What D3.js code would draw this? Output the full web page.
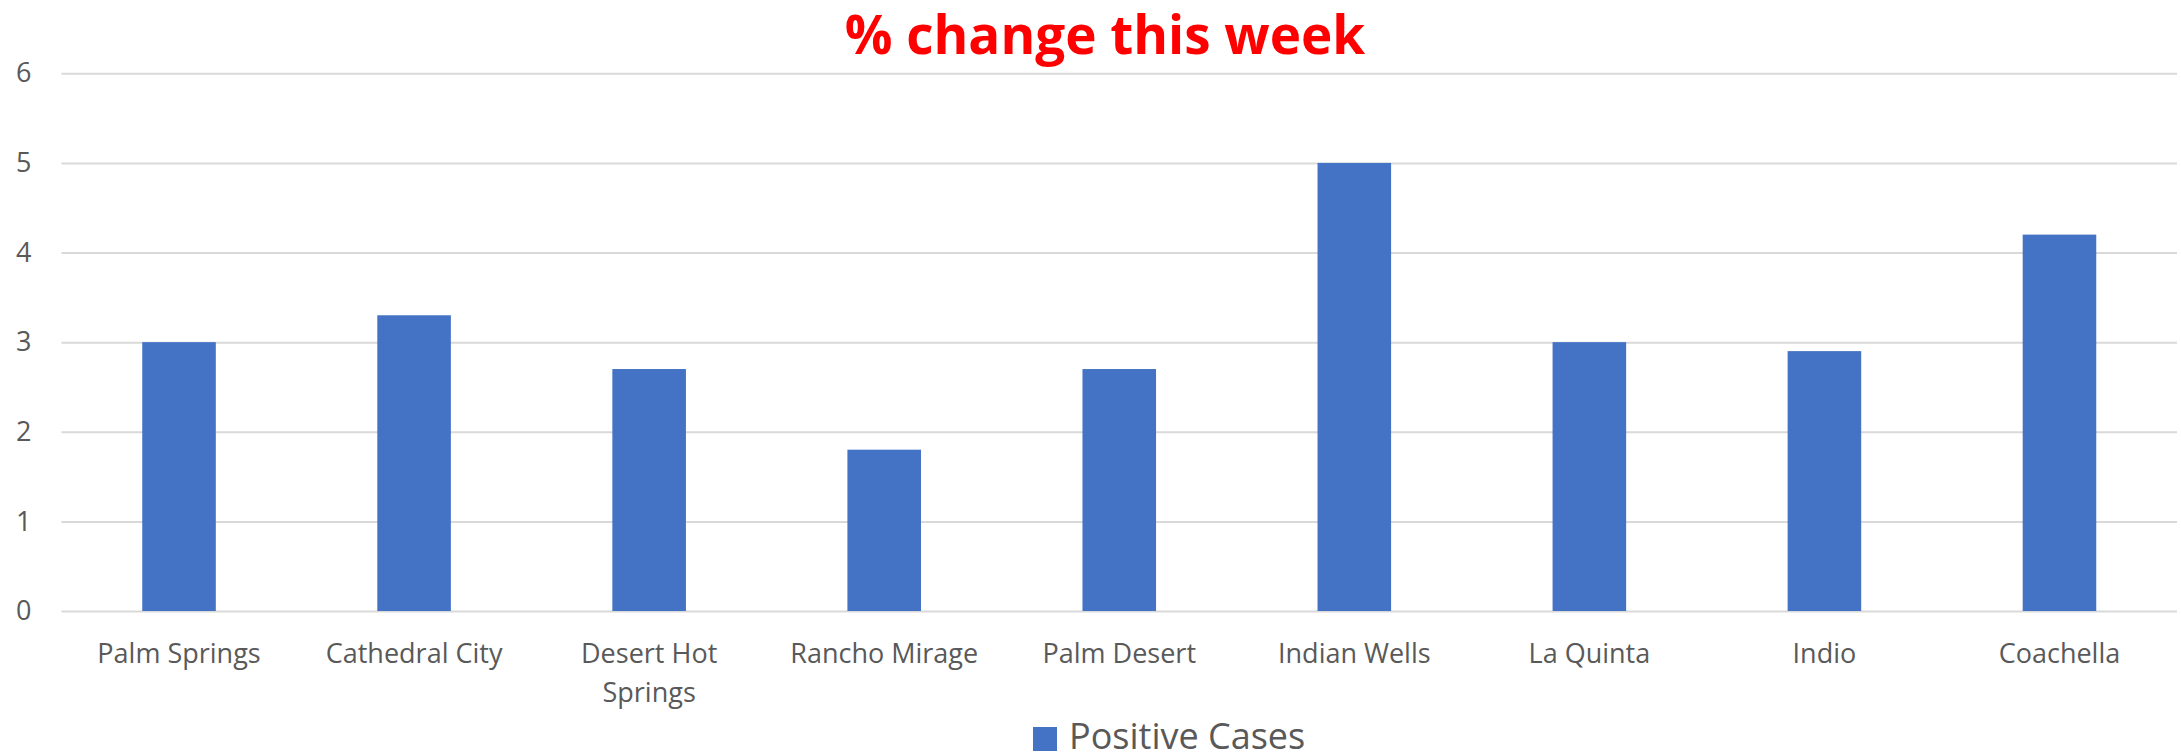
<!DOCTYPE html>
<html>
<head>
<meta charset="utf-8">
<script src="https://cdn.jsdelivr.net/npm/d3@7"></script>
<style>
	html, body { margin: 0; padding: 0; background: #fff; }
	svg { display: block; }
</style>
</head>
<body>
<div id="chart"></div>
<script>
const categories = ["Palm Springs", "Cathedral City", "Desert Hot Springs", "Rancho Mirage", "Palm Desert", "Indian Wells", "La Quinta", "Indio", "Coachella"]
const positive_cases = [3, 3.3, 2.7, 1.8, 2.7, 5, 3, 2.9, 4.2]
const y_ticks = [0, 1, 2, 3, 4, 5, 6]
const series_name = "Positive Cases"
const chart_title = "% change this week"

const width = 2181
const height = 756
const left = 61.5
const right = 2177
const top_y = 73.3
const bottom_y = 611
const font = "'Open Sans', sans-serif"
const text_color = "#595959"
const bar_color = "#4472C4"

const svg = d3.select("#chart")
	.append("svg")
	.attr("width", width)
	.attr("height", height)

const x_scale = d3.scaleBand()
	.domain(categories)
	.range([left, right])
	.paddingInner(0.687)
	.paddingOuter(0.3435)

const y_scale = d3.scaleLinear()
	.domain([0, 6])
	.range([bottom_y, top_y])

// gridlines
const y_grid = d3.axisLeft(y_scale)
	.tickValues(y_ticks)
	.tickSize(-(right - left))
	.tickFormat("")

svg.append("g")
	.attr("class", "grid")
	.attr("transform", `translate(${left},0)`)
	.call(y_grid)
	.call(g => g.select(".domain").remove())
	.call(g => g.selectAll("line").attr("stroke", "#d9d9d9").attr("stroke-width", 2))

// y tick labels
const y_axis = d3.axisLeft(y_scale)
	.tickValues(y_ticks)
	.tickFormat(d3.format("d"))
	.tickSize(0)
	.tickPadding(30)

svg.append("g")
	.attr("transform", `translate(${left},0)`)
	.call(y_axis)
	.call(g => g.select(".domain").remove())
	.call(g => g.selectAll("text")
		.attr("fill", text_color)
		.attr("font-size", 27)
		.attr("font-family", font))

// bars
svg.append("g")
	.attr("class", "bars")
	.selectAll("rect")
	.data(categories)
	.join("rect")
	.attr("x", d => x_scale(d))
	.attr("y", (d, i) => y_scale(positive_cases[i]))
	.attr("width", x_scale.bandwidth())
	.attr("height", (d, i) => bottom_y - y_scale(positive_cases[i]))
	.attr("fill", bar_color)

// x labels
const x_axis = d3.axisBottom(x_scale)
	.tickSize(0)
	.tickPadding(0)

const label_wrap = x_scale.step() * 0.92

svg.append("g")
	.attr("transform", `translate(0,${bottom_y})`)
	.call(x_axis)
	.call(g => g.select(".domain").remove())
	.call(g => g.selectAll("text")
		.attr("fill", text_color)
		.attr("font-size", 27)
		.attr("font-family", font)
		.attr("dy", null)
		.attr("y", 52)
		.each(function(d) {
			const t = d3.select(this)
			const words = d.split(" ")
			t.text(null)
			let line = []
			let lines = []
			const probe = t.append("tspan")
			words.forEach(w => {
				line.push(w)
				probe.text(line.join(" "))
				if (probe.node().getComputedTextLength() > label_wrap && line.length > 1) {
					line.pop()
					lines.push(line.join(" "))
					line = [w]
				}
			})
			lines.push(line.join(" "))
			probe.remove()
			lines.forEach((l, i) => {
				t.append("tspan")
					.attr("x", 0)
					.attr("dy", i == 0 ? 0 : 39)
					.text(l)
			})
		}))

// title
svg.append("text")
	.attr("x", 1105)
	.attr("y", 54)
	.attr("text-anchor", "middle")
	.attr("fill", "#ff0000")
	.attr("font-weight", "bold")
	.attr("font-size", 53)
	.attr("font-family", font)
	.text(chart_title)

// legend
const legend = svg.append("g")
	.attr("class", "legend")

legend.append("rect")
	.attr("x", 1033)
	.attr("y", 727)
	.attr("width", 24)
	.attr("height", 24)
	.attr("fill", bar_color)

legend.append("text")
	.attr("x", 1069)
	.attr("y", 749)
	.attr("fill", text_color)
	.attr("font-size", 36)
	.attr("font-family", font)
	.text(series_name)
</script>
</body>
</html>
